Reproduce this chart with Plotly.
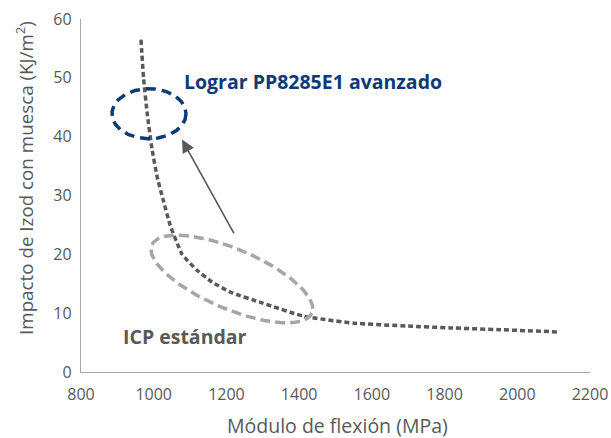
import numpy as np
import plotly.graph_objects as go

# Curve data
flex_modulus = [965, 972, 982, 995, 1010, 1025, 1045, 1078, 1119, 1160, 1210, 1300, 1411, 1550, 1700, 1815, 1950, 2117]
izod_impact = [56.5, 50, 44, 38, 33, 29.5, 25, 20, 17.3, 15.3, 13.6, 11.7, 9.5, 8.3, 7.8, 7.5, 7.2, 6.8]

x_ticks = [800, 1000, 1200, 1400, 1600, 1800, 2000, 2200]
y_ticks = [0, 10, 20, 30, 40, 50, 60]

x_title = "Módulo de flexión (MPa)"
y_title = "Impacto de Izod con muesca (KJ/m<sup>2</sup>)"
label_advanced = "Lograr PP8285E1 avanzado"
label_standard = "ICP estándar"

# layout geometry (page body margin removed in post_script)
W, H = 611, 438
ML, MR, MT, MB = 81, 21, 19, 66
X_RANGE = [800, 2200]
Y_RANGE = [0, 60]
px_per_x = (W - ML - MR) / (X_RANGE[1] - X_RANGE[0])
px_per_y = (H - MT - MB) / (Y_RANGE[1] - Y_RANGE[0])


def ellipse(cx, cy, a_px, b_px, angle_deg, n=200):
    t = np.linspace(0, 2 * np.pi, n)
    th = np.deg2rad(angle_deg)
    dx = a_px * np.cos(t) * np.cos(th) - b_px * np.sin(t) * np.sin(th)
    dy = a_px * np.cos(t) * np.sin(th) + b_px * np.sin(t) * np.cos(th)
    return cx + dx / px_per_x, cy - dy / px_per_y


fig = go.Figure()

fig.add_trace(go.Scatter(
    x=flex_modulus, y=izod_impact, mode="lines",
    line=dict(color="#595959", width=3.5, dash="5px,3px", shape="spline", smoothing=0.4),
    hoverinfo="skip", showlegend=False))

# blue ellipse (advanced)
bx, by = ellipse(987, 43.9, 37, 25, 0)
fig.add_trace(go.Scatter(x=bx, y=by, mode="lines",
                         line=dict(color="#0b3a78", width=3.5, dash="10px,6px"),
                         hoverinfo="skip", showlegend=False))

# gray ellipse (standard)
gx, gy = ellipse(1215, 15.8, 87, 30, 23)
fig.add_trace(go.Scatter(x=gx, y=gy, mode="lines",
                         line=dict(color="#a6a6a6", width=3.5, dash="10px,5px"),
                         hoverinfo="skip", showlegend=False))

fig.add_annotation(x=1078, y=39.5, ax=1223, ay=23.3, xref="x", yref="y", axref="x", ayref="y",
                   text="", showarrow=True, arrowhead=2, arrowsize=1.6, arrowwidth=1.6,
                   arrowcolor="#595959")

fig.add_annotation(x=1078, y=49.3, xref="x", yref="y", text="<b>" + label_advanced + "</b>",
                   showarrow=False, xanchor="left", yanchor="middle",
                   font=dict(size=19.5, color="#0b3a78", family="Open Sans"))
fig.add_annotation(x=910, y=5.95, xref="x", yref="y", text="<b>" + label_standard + "</b>",
                   showarrow=False, xanchor="left", yanchor="middle",
                   font=dict(size=19.5, color="#595959", family="Open Sans"))

# axis titles placed as paper annotations
fig.add_annotation(x=(337 - ML) / (W - ML - MR), y=-(425 - (H - MB)) / (H - MT - MB),
                   xref="paper", yref="paper", text=x_title, showarrow=False,
                   xanchor="center", yanchor="middle",
                   font=dict(size=19.5, color="#595959", family="Open Sans"))
fig.add_annotation(x=-(ML - 25) / (W - ML - MR), y=((H - MB) - 178) / (H - MT - MB),
                   xref="paper", yref="paper", text=y_title, showarrow=False, textangle=-90,
                   xanchor="center", yanchor="middle",
                   font=dict(size=18.8, color="#595959", family="Open Sans"))

axis_common = dict(showgrid=False, zeroline=False, showline=True, linecolor="#a6a6a6",
                   linewidth=1.3, ticks="", automargin=False, ticklabeloverflow="allow",
                   tickfont=dict(size=16, color="#595959", family="Open Sans"))

fig.update_xaxes(range=X_RANGE, tickvals=x_ticks, ticklabelstandoff=8, **axis_common)
fig.update_yaxes(range=Y_RANGE, tickvals=y_ticks, ticklabelstandoff=5, **axis_common)

fig.update_layout(width=W, height=H, margin=dict(l=ML, r=MR, t=MT, b=MB),
                  plot_bgcolor="white", paper_bgcolor="white",
                  font=dict(family="Open Sans", color="#595959"))

fig.write_html("out.html", config={"displayModeBar": False},
               post_script="document.body.style.margin='0px';document.body.style.overflow='hidden';")
